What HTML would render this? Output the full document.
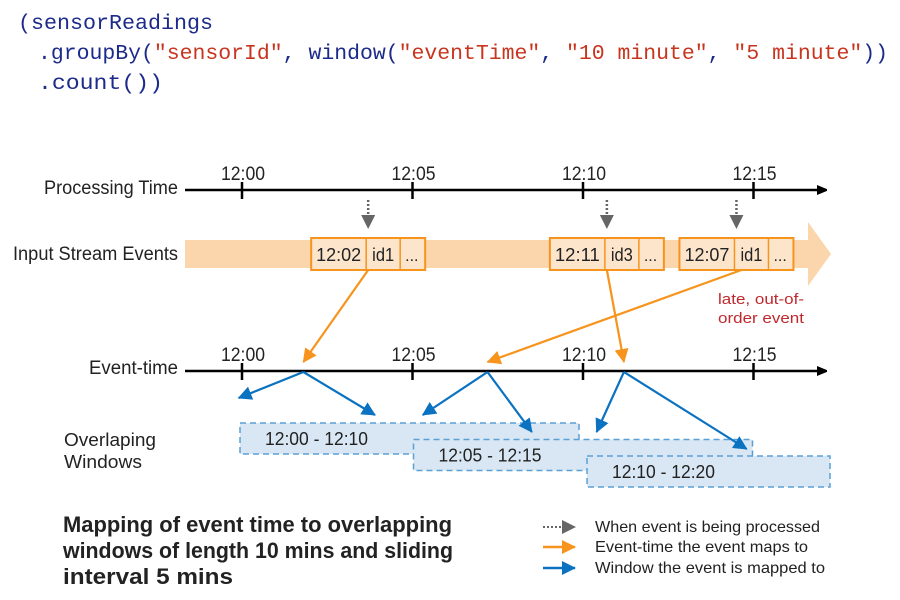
<!DOCTYPE html>
<html><head><meta charset="utf-8"><style>
html,body{margin:0;padding:0;background:#fff;}
svg{display:block;font-family:"Liberation Sans",sans-serif;}
.code{font-family:"Liberation Mono",monospace;font-size:21px;}
</style></head><body>
<svg id="c" width="900" height="600" viewBox="0 0 900 600">
<defs>
<marker id="mBlack" markerWidth="10" markerHeight="10" refX="9" refY="5" orient="auto" markerUnits="userSpaceOnUse"><path d="M0,0L12,5L0,10Z" fill="#000"/></marker>
<marker id="mGray" markerWidth="14" markerHeight="14" refX="13" refY="7" orient="auto" markerUnits="userSpaceOnUse"><path d="M0,0L14,7L0,14Z" fill="#666"/></marker>
<marker id="mOrange" markerWidth="14" markerHeight="14" refX="13" refY="7" orient="auto" markerUnits="userSpaceOnUse"><path d="M0,0L14,7L0,14Z" fill="#f7941d"/></marker>
<marker id="mBlue" markerWidth="14" markerHeight="14" refX="13" refY="7" orient="auto" markerUnits="userSpaceOnUse"><path d="M0,0L14,7L0,14Z" fill="#0a72c1"/></marker>
</defs>
<g class="code">
<text x="18" y="29" fill="#1c2a8a" textLength="195" lengthAdjust="spacingAndGlyphs">(sensorReadings</text>
<text x="38" y="59" textLength="850" lengthAdjust="spacingAndGlyphs"><tspan fill="#1c2a8a">.groupBy(</tspan><tspan fill="#c8351e">"sensorId"</tspan><tspan fill="#1c2a8a">, window(</tspan><tspan fill="#c8351e">"eventTime"</tspan><tspan fill="#1c2a8a">, </tspan><tspan fill="#c8351e">"10 minute"</tspan><tspan fill="#1c2a8a">, </tspan><tspan fill="#c8351e">"5 minute"</tspan><tspan fill="#1c2a8a">))</tspan></text>
<text x="38" y="89" fill="#1c2a8a" textLength="125" lengthAdjust="spacingAndGlyphs">.count())</text>
</g>
<g id="labels" font-size="19" fill="#222">
<text x="178" y="194" text-anchor="end" textLength="134" lengthAdjust="spacingAndGlyphs">Processing Time</text>
<text x="178" y="260" text-anchor="end" textLength="165" lengthAdjust="spacingAndGlyphs">Input Stream Events</text>
<text x="178" y="374" text-anchor="end" textLength="89" lengthAdjust="spacingAndGlyphs">Event-time</text>
<text x="64" y="446" font-size="18" textLength="92" lengthAdjust="spacingAndGlyphs">Overlaping</text>
<text x="64" y="468" font-size="18" textLength="78" lengthAdjust="spacingAndGlyphs">Windows</text>
<g font-size="22" font-weight="bold" fill="#222">
<text x="63" y="532" textLength="389" lengthAdjust="spacingAndGlyphs">Mapping of event time to overlapping</text>
<text x="63" y="558" textLength="390" lengthAdjust="spacingAndGlyphs">windows of length 10 mins and sliding</text>
<text x="63" y="584" textLength="170" lengthAdjust="spacingAndGlyphs">interval 5 mins</text>
</g>
<text x="718" y="304" fill="#c0282d" font-size="15" textLength="86" lengthAdjust="spacingAndGlyphs">late, out-of-</text>
<text x="718" y="323" fill="#c0282d" font-size="15" textLength="86" lengthAdjust="spacingAndGlyphs">order event</text>
</g>
<g id="legend" font-size="16" fill="#222">
<line x1="543" y1="527" x2="575" y2="527" stroke="#666" stroke-width="2" stroke-dasharray="2,2" marker-end="url(#mGray)"/>
<text x="595" y="532" textLength="225" lengthAdjust="spacingAndGlyphs">When event is being processed</text>
<line x1="543" y1="547" x2="575" y2="547" stroke="#f7941d" stroke-width="2.5" marker-end="url(#mOrange)"/>
<text x="595" y="552" textLength="213" lengthAdjust="spacingAndGlyphs">Event-time the event maps to</text>
<line x1="543" y1="568" x2="575" y2="568" stroke="#0a72c1" stroke-width="2.5" marker-end="url(#mBlue)"/>
<text x="595" y="573" textLength="230" lengthAdjust="spacingAndGlyphs">Window the event is mapped to</text>
</g>
<g id="dyn"></g>
</svg>
<script>
// data (minutes after 12:00)
const tickMinutes = [0, 5, 10, 15];
const tickLabels = ["12:00", "12:05", "12:10", "12:15"];
const eventIds = ["id1", "id3", "id1"];
const eventTimeLabels = ["12:02", "12:11", "12:07"];
const processingMinutes = [3.7, 10.7, 14.5];
const eventMinutes = [1.8, 11.2, 7.2];
const windowStarts = [0, 5, 10];
const windowLength = 10;
const windowLabels = ["12:00 - 12:10", "12:05 - 12:15", "12:10 - 12:20"];
const blueTargetMinutes = [[-0.1, 3.9], [10.4, 14.8], [5.3, 8.5]];

const NS = "http://www.w3.org/2000/svg";
const g = document.getElementById("dyn");
const x = m => 242 + m * 34.1;
const PY = 190, EY = 371, winTop = 423, winStep = 16.5, winH = 31;
function el(tag, attrs, parent) {
  const e = document.createElementNS(NS, tag);
  for (const k in attrs) e.setAttribute(k, attrs[k]);
  (parent || g).appendChild(e);
  return e;
}
const band = el("path", {d: "M185,240 L808,240 L808,222 L831,254 L808,286 L808,268 L185,268 Z", fill: "#fbd5ab"});


[[PY, "processing-time-axis"], [EY, "event-time-axis"]].forEach(([y, n]) => {
  const a = el("line", {x1: 185, y1: y, x2: 826, y2: y, stroke: "#000", "stroke-width": 2.5, "marker-end": "url(#mBlack)"});
  
  
  tickMinutes.forEach((m, i) => {
    const t = el("line", {x1: x(m), y1: y - 8, x2: x(m), y2: y + 9, stroke: "#000", "stroke-width": 2.5});
    
    
    const tl = el("text", {x: x(m) + 1, y: y - 10, "text-anchor": "middle", "font-size": 19, fill: "#222", textLength: 44, lengthAdjust: "spacingAndGlyphs"});
    tl.textContent = tickLabels[i];
    
    
  });
});
windowStarts.forEach((s, i) => {
  const x0 = x(s) - 2 + i * 3, x1 = Math.min(x(s + windowLength) - 4 + i * 3, 830);
  const r = el("rect", {x: x0, y: winTop + i * winStep, width: x1 - x0, height: winH, fill: "#d8e7f3", stroke: "#5aa0d6", "stroke-width": 1.5, "stroke-dasharray": "6,4"});
  
  
  const t = el("text", {x: x0 + 25, y: winTop + i * winStep + 22, "font-size": 18, fill: "#222", textLength: 103, lengthAdjust: "spacingAndGlyphs"});
  t.textContent = windowLabels[i];
  
  
});
const sortedEvents = eventMinutes.slice().sort((a, b) => a - b);
processingMinutes.forEach((pm, i) => {
  const px = x(pm), ex = x(eventMinutes[i]);
  const d = el("line", {x1: px, y1: PY + 10, x2: px, y2: 228, stroke: "#666", "stroke-width": 2.5, "stroke-dasharray": "2,2", "marker-end": "url(#mGray)"});
  
  
  const bx = px - 57;
  const box = el("rect", {x: bx, y: 238, width: 114, height: 32, fill: "#fde5cc", stroke: "#f7941d", "stroke-width": 2});
  
  
  [px - 2, px + 32].forEach(dx => {
    const dv = el("line", {x1: dx, y1: 238, x2: dx, y2: 270, stroke: "#f7941d", "stroke-width": 1.5});
    
    
  });
  const t1 = el("text", {x: bx + 5, y: 261, "font-size": 18, fill: "#222", textLength: 45, lengthAdjust: "spacingAndGlyphs"});
  t1.textContent = eventTimeLabels[i];
  
  
  const t2 = el("text", {x: px + 4, y: 261, "font-size": 18, fill: "#222", textLength: 22, lengthAdjust: "spacingAndGlyphs"});
  t2.textContent = eventIds[i];
  
  
  const t3 = el("text", {x: px + 37, y: 261, "font-size": 16, fill: "#222"});
  t3.textContent = "...";
  
  
  const sx = i === 2 ? px + 5 : px;
  const o = el("line", {x1: sx, y1: 270, x2: ex, y2: EY - 9, stroke: "#f7941d", "stroke-width": 2.2, "marker-end": "url(#mOrange)"});
  
  
  const rank = sortedEvents.indexOf(eventMinutes[i]);
  blueTargetMinutes[i].forEach((tm, j) => {
    const ty = 398 + (rank + j) * 17 - (rank === 0 && j === 1 ? 0 : 0);
    const b = el("line", {x1: ex, y1: EY + 1, x2: x(tm), y2: ty, stroke: "#0a72c1", "stroke-width": 2.2, "marker-end": "url(#mBlue)"});
    
    
  });
});
</script>
</body></html>
